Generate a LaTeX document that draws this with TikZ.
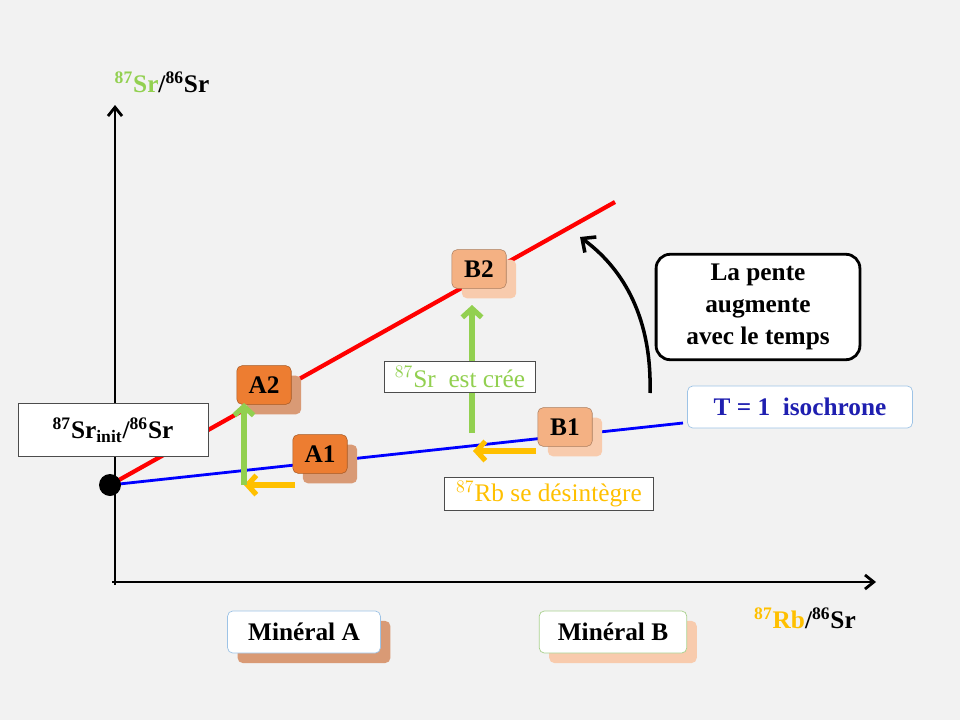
\documentclass[tikz,border=0pt]{standalone}
\usepackage{fontspec}
\setmainfont{Liberation Serif}
\usetikzlibrary{arrows.meta,positioning}
\definecolor{bg}{HTML}{F2F2F2}
\definecolor{srgreen}{HTML}{92D050}
\definecolor{rbyellow}{HTML}{FFC000}
\definecolor{aorange}{HTML}{ED7D31}
\definecolor{ashadow}{HTML}{D99A75}
\definecolor{borange}{HTML}{F4B183}
\definecolor{bshadow}{HTML}{F8CBAD}
\definecolor{isoblue}{HTML}{1F1FB0}
\definecolor{boxblue}{HTML}{9DC3E6}
\definecolor{boxgreen}{HTML}{A9D18E}

\begin{document}
\begin{tikzpicture}
  [
    x=0.02cm, y=-0.02cm,
    axis/.style = {line width=1.6pt,-{Straight Barb[length=5pt,width=8pt]}},
    grain/.style = {rounded corners=3pt,minimum width=31pt,minimum height=22pt,font=\bfseries\Large,inner sep=0pt},
    shadow/.style = {rounded corners=3pt,minimum width=31pt,minimum height=22pt},
    growth/.style = {line width=3pt,srgreen,-{Straight Barb[length=5pt,width=11pt]}},
    decay/.style = {line width=3pt,rbyellow,-{Straight Barb[length=5pt,width=11pt]}},
    legend/.style = {draw=black!70,fill=white,line width=0.4pt,font=\Large,inner sep=2pt},
    mineral/.style = {fill=white,rounded corners=3pt,minimum width=87pt,minimum height=24pt,font=\bfseries\Large},
  ]
  \fill[bg] (0,0) rectangle (960,720);

  % axes
  \coordinate (origin) at (115,582);
  \coordinate (ytop) at (115,105);
  \coordinate (xend) at (876,582);
  \draw[axis] (115,585) -- (ytop);
  \draw[axis] (112,582) -- (xend);
  \node (ylabel) at (162,82) {\bfseries\Large\textcolor{srgreen}{$^{\mathbf{87}}$Sr}/$^{\mathbf{86}}$Sr};
  \node (xlabel) at (805,618) {\bfseries\Large\textcolor{rbyellow}{$^{\mathbf{87}}$Rb}/$^{\mathbf{86}}$Sr};

  % isochrones
  \coordinate (init) at (110,485);
  \coordinate (redend) at (615,202);
  \coordinate (blueend) at (683,423);
  \draw[red,line width=2.4pt] (init) -- (redend);
  \draw[blue,line width=1.6pt] (init) -- (blueend);
  \fill (init) circle (11);
  \node[legend,minimum width=108pt,minimum height=30pt] (srinit) at (113,430)
    {\bfseries\Large$^{\mathbf{87}}$Sr$_{\mathbf{init}}$/$^{\mathbf{86}}$Sr};

  % minerals
  \node[shadow,fill=ashadow] at (330,464) {};
  \node[grain,fill=aorange,draw=aorange!70!black,line width=0.3pt] (A1) at (320,454) {A1};
  \node[shadow,fill=ashadow] at (274,395) {};
  \node[grain,fill=aorange,draw=aorange!70!black,line width=0.3pt] (A2) at (264,385) {A2};
  \node[shadow,fill=bshadow] at (575,437) {};
  \node[grain,fill=borange,draw=borange!70!black,line width=0.3pt] (B1) at (565,427) {B1};
  \node[shadow,fill=bshadow] at (489,279) {};
  \node[grain,fill=borange,draw=borange!70!black,line width=0.3pt] (B2) at (479,269) {B2};

  % evolution arrows
  \coordinate (a0) at (295,485);
  \coordinate (a1) at (244,485);
  \coordinate (a2) at (244,403);
  \draw[decay] (a0) -- (a1);
  \draw[growth] (a1) -- (a2);
  \coordinate (b0) at (536,451);
  \coordinate (b1) at (473,451);
  \coordinate (b2) at (472,433);
  \coordinate (b3) at (472,305);
  \draw[decay] (b0) -- (b1);
  \draw[growth] (b2) -- (b3);

  \node[legend,text=srgreen,minimum width=86pt,minimum height=18pt] (srmade) at (460,377) {$^{87}$Sr\ \ est crée};
  \node[legend,text=rbyellow,minimum width=119pt,minimum height=19pt] (rbdecay) at (549,494) {$^{87}$Rb se désintègre};

  % slope
  \node[draw,fill=white,line width=1.6pt,rounded corners=8pt,align=center,font=\bfseries\Large,
    minimum width=116pt,minimum height=60pt] (slope) at (758,307) {La pente\\augmente\\avec le temps};
  \coordinate (bend0) at (650,393);
  \coordinate (bend1) at (580,237);
  \draw[line width=2pt,-{Straight Barb[length=6pt,width=11pt]}] (bend0) .. controls (652,320) and (625,270) .. (bend1);
  \node[draw=boxblue,fill=white,rounded corners=3pt,text=isoblue,font=\bfseries\Large,
    minimum width=128pt,minimum height=24pt] (iso) at (800,407) {T = 1\ \ isochrone};

  % mineral labels
  \node[shadow,fill=ashadow,minimum width=87pt,minimum height=24pt] at (314,642) {};
  \node[mineral,draw=boxblue] (minA) at (304,632) {Minéral A};
  \node[shadow,fill=bshadow,minimum width=84pt,minimum height=24pt] at (623,642) {};
  \node[mineral,draw=boxgreen,minimum width=84pt] (minB) at (613,632) {Minéral B};
\end{tikzpicture}
\end{document}
